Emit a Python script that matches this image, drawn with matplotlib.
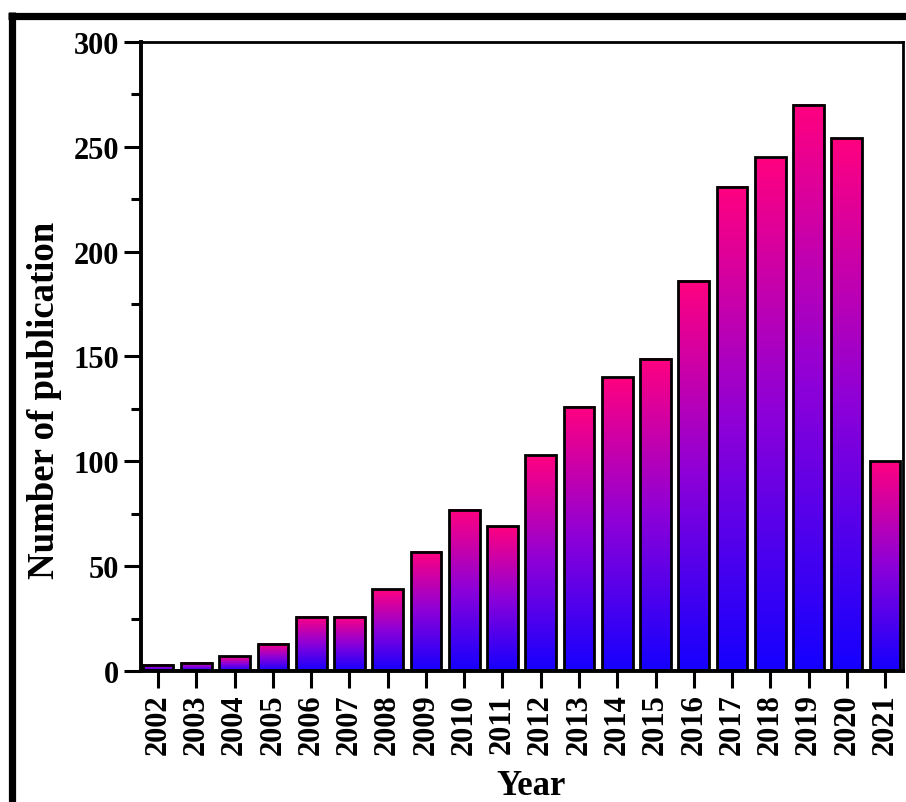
import matplotlib
matplotlib.use("Agg")
import matplotlib.pyplot as plt
import numpy as np
from matplotlib.colors import LinearSegmentedColormap
from matplotlib.lines import Line2D
from matplotlib.ticker import MultipleLocator

years = ["2002", "2003", "2004", "2005", "2006", "2007", "2008", "2009", "2010", "2011",
         "2012", "2013", "2014", "2015", "2016", "2017", "2018", "2019", "2020", "2021"]
counts = [3, 4, 7, 13, 26, 26, 39, 57, 77, 69, 103, 126, 140, 149, 186, 231, 245, 270, 254, 100]

plt.rcParams['font.family'] = ['Liberation Serif', 'DejaVu Serif']
plt.rcParams['font.weight'] = 'bold'

fig = plt.figure(figsize=(9.06, 8.03), dpi=100)
ax = fig.add_axes([0.1556, 0.1631, 0.8411, 0.7834])

cmap = LinearSegmentedColormap.from_list("bp", [(0.08, 0.0, 1.0), (0.55, 0.0, 0.85), (1.0, 0.0, 0.5)])
grad = np.linspace(0, 1, 256).reshape(-1, 1)
width = 0.8
x = np.arange(len(years))
for xi, h in zip(x, counts):
    ax.imshow(grad, extent=[xi - width / 2, xi + width / 2, 0, h], origin='lower',
              aspect='auto', cmap=cmap, zorder=1, interpolation='bilinear')
ax.bar(x, counts, width=width, facecolor='none', edgecolor='black', linewidth=2, zorder=2)

ax.set_xlim(-0.45, 19.47)
ax.set_ylim(0, 300)
ax.set_xticks(x)
ax.set_xticklabels(years, rotation=90, fontsize=22, fontweight='bold')
ax.yaxis.set_major_locator(MultipleLocator(50))
ax.yaxis.set_minor_locator(MultipleLocator(25))
for lab in ax.get_yticklabels():
    lab.set_fontsize(22)
    lab.set_fontweight('bold')
ax.tick_params(axis='both', which='major', direction='out', length=12, width=2.2, pad=4)
ax.tick_params(axis='y', which='minor', direction='out', length=7, width=2.2)
ax.tick_params(axis='x', which='minor', bottom=False)

ax.spines['left'].set_linewidth(2.8)
ax.spines['bottom'].set_linewidth(2.8)
ax.spines['top'].set_linewidth(2)
ax.spines['right'].set_linewidth(2)

ax.set_ylabel("Number of publication", fontsize=26.5, fontweight='bold')
ax.yaxis.set_label_coords(-0.103, 0.431)
ax.set_xlabel("Year", fontsize=25, fontweight='bold')
ax.xaxis.set_label_coords(0.512, -0.156)

# outer thick frame (top and left)
fig.add_artist(Line2D([8 / 906, 1.0], [1 - 16.5 / 803, 1 - 16.5 / 803],
                      transform=fig.transFigure, color='black', linewidth=5.2, solid_capstyle='butt'))
fig.add_artist(Line2D([11.5 / 906, 11.5 / 906], [1 - 13 / 803, 0.0],
                      transform=fig.transFigure, color='black', linewidth=5.2, solid_capstyle='butt'))

fig.savefig("out.png", dpi=100)
